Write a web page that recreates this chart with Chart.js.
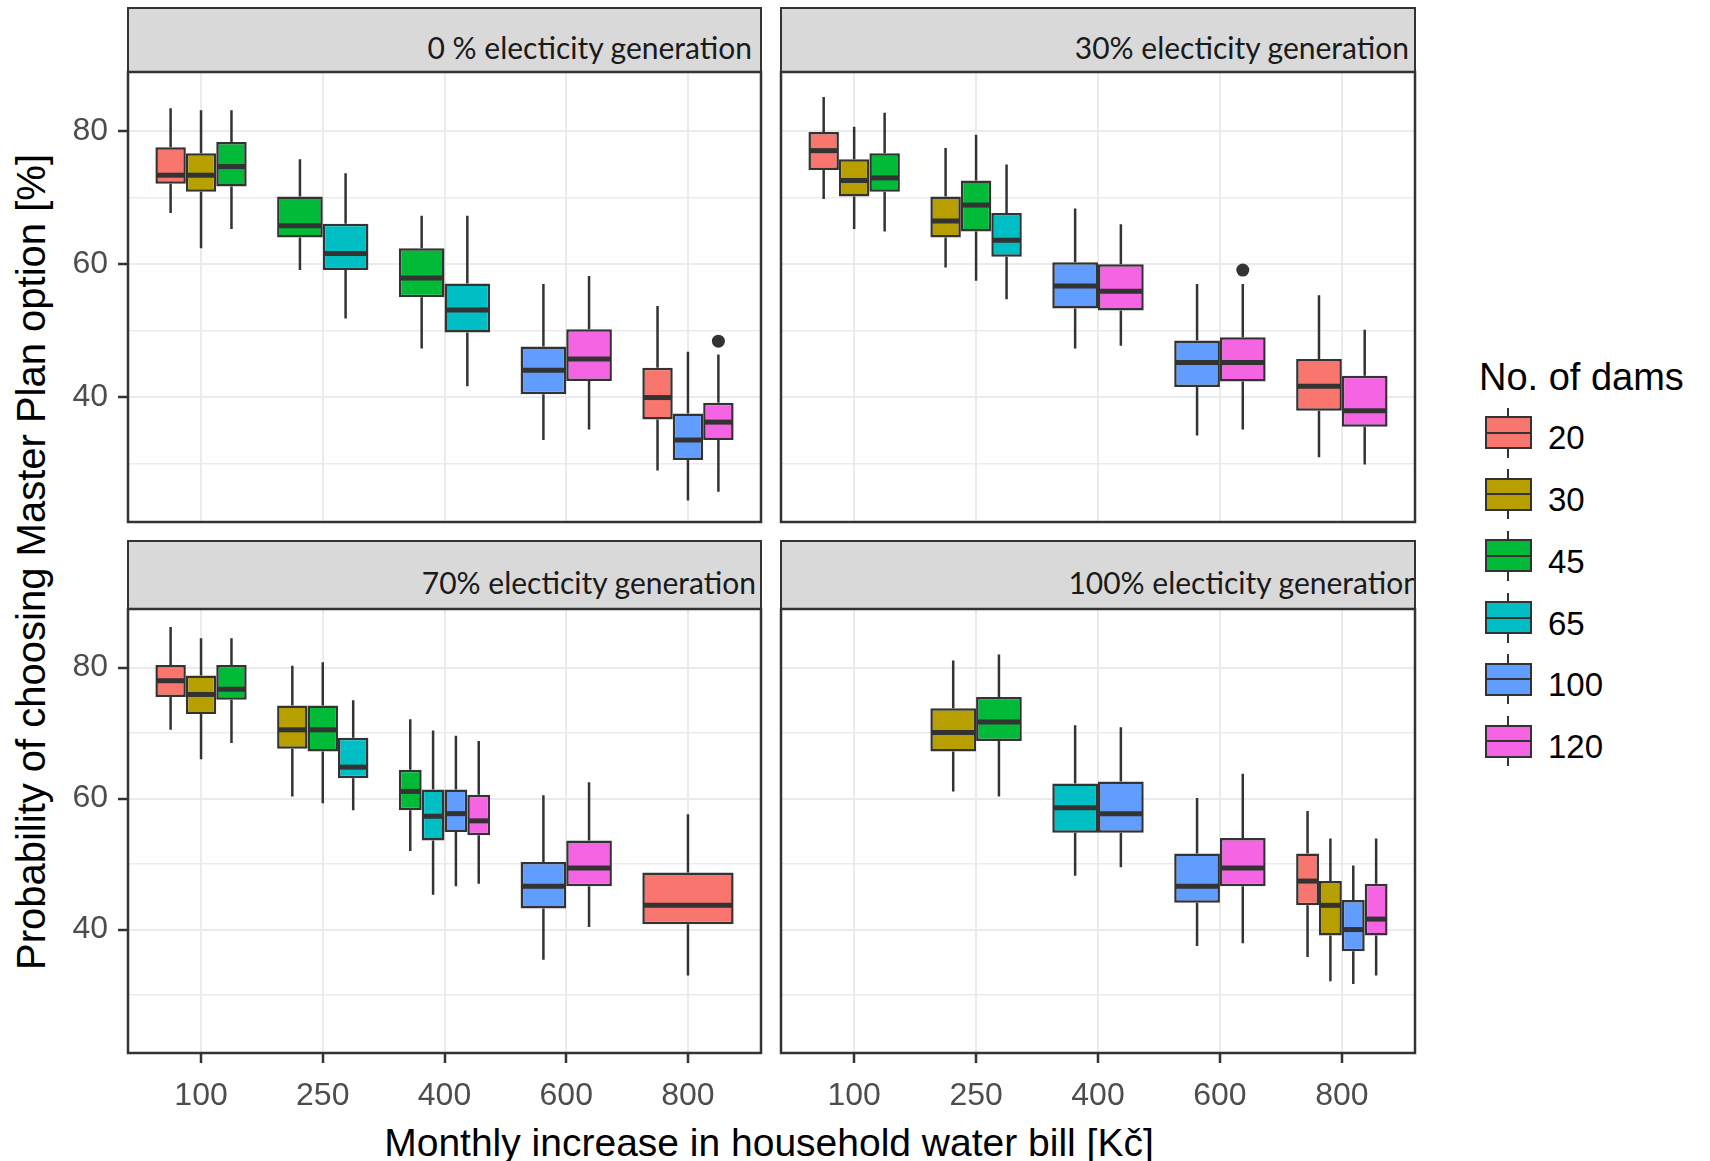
<!DOCTYPE html>
<html>
<head>
<meta charset="utf-8">
<title>Probability of choosing Master Plan option</title>
<script src="https://cdn.jsdelivr.net/npm/chart.js@4.4.1/dist/chart.umd.min.js"></script>
<style>
html, body { margin: 0; padding: 0; background: #fff; }
body { position: relative; width: 1710px; height: 1161px; overflow: hidden; font-family: "Liberation Sans", Arial, sans-serif; }
canvas { position: absolute; }
.strip { position: absolute; box-sizing: border-box; background: #d9d9d9; border: 2px solid #333; overflow: hidden; }
.strip span { position: absolute; font-family: Lato, sans-serif; font-size: 30px; line-height: 1; color: #1a1a1a; white-space: nowrap; }
.title { position: absolute; font-size: 39px; line-height: 1; color: #000; white-space: nowrap; }
#ytitle { left: 31px; top: 562px; font-size: 40px; transform: translate(-50%, -50%) rotate(-90deg); }
#xtitle { left: 769px; top: 1123px; transform: translateX(-50%); }
#ltitle { left: 1479px; top: 358px; font-size: 38px; }
.lkey { position: absolute; box-sizing: border-box; border: 2px solid #333; }
.lkey::after { content: ""; position: absolute; left: 0; right: 0; top: 50%; height: 2px; margin-top: -1px; background: #333; }
.lwhisk { position: absolute; width: 2px; background: #333; }
.llab { position: absolute; font-size: 33px; line-height: 1; color: #000; }
</style>
</head>
<body>
<div id="ytitle" class="title">Probability of choosing Master Plan option [%]</div>
<div id="xtitle" class="title">Monthly increase in household water bill [Kč]</div>
<div id="ltitle" class="title">No. of dams</div>
<script>
const bills = ['100', '250', '400', '600', '800'];
const dams = ['20', '30', '45', '65', '100', '120'];
const damColors = ['#F8766D', '#B79F00', '#00BA38', '#00BFC4', '#619CFF', '#F564E3'];
const panelTitles = ['0 % electicity generation', '30% electicity generation',
                     '70% electicity generation', '100% electicity generation'];

// row: bill, dams, lower whisker, Q1, median, Q3, upper whisker
const boxes0 = [
  ['100', '20', 67.7, 72.1, 73.4, 77.6, 83.5],
  ['100', '30', 62.4, 70.9, 73.4, 76.7, 83.2],
  ['100', '45', 65.3, 71.7, 74.7, 78.4, 83.2],
  ['250', '45', 59.1, 64.0, 65.8, 70.2, 75.8],
  ['250', '65', 51.8, 59.1, 61.6, 66.1, 73.7],
  ['400', '45', 47.3, 55.0, 57.9, 62.4, 67.3],
  ['400', '65', 41.6, 49.7, 53.1, 57.1, 67.3],
  ['600', '100', 33.5, 40.4, 44.0, 47.6, 57.0],
  ['600', '120', 35.1, 42.4, 45.7, 50.2, 58.2],
  ['800', '20', 28.9, 36.6, 39.9, 44.4, 53.7],
  ['800', '100', 24.4, 30.5, 33.5, 37.5, 46.8],
  ['800', '120', 25.7, 33.5, 36.2, 39.1, 46.4],
];
const boxes30 = [
  ['100', '20', 69.8, 74.2, 77.1, 79.9, 85.2],
  ['100', '30', 65.3, 70.2, 72.6, 75.8, 80.7],
  ['100', '45', 64.9, 70.9, 73.0, 76.7, 82.8],
  ['250', '30', 59.5, 64.0, 66.5, 70.2, 77.5],
  ['250', '45', 57.5, 64.9, 68.9, 72.6, 79.5],
  ['250', '65', 54.7, 61.1, 63.6, 67.7, 75.0],
  ['400', '100', 47.3, 53.3, 56.7, 60.3, 68.4],
  ['400', '120', 47.7, 53.0, 55.9, 60.0, 66.0],
  ['600', '100', 34.2, 41.5, 45.2, 48.5, 57.0],
  ['600', '120', 35.1, 42.3, 45.2, 49.0, 57.0],
  ['800', '20', 30.9, 37.9, 41.6, 45.7, 55.3],
  ['800', '120', 29.8, 35.5, 37.9, 43.2, 50.1],
];
const boxes70 = [
  ['100', '20', 70.5, 75.5, 78.0, 80.4, 86.2],
  ['100', '30', 66.0, 72.9, 75.9, 78.8, 84.5],
  ['100', '45', 68.5, 75.1, 76.7, 80.4, 84.5],
  ['250', '30', 60.3, 67.6, 70.5, 74.2, 80.3],
  ['250', '45', 59.3, 67.2, 70.5, 74.2, 80.8],
  ['250', '65', 58.2, 63.1, 64.8, 69.3, 75.0],
  ['400', '45', 52.0, 58.2, 61.1, 64.4, 72.1],
  ['400', '65', 45.3, 53.6, 57.3, 61.4, 70.4],
  ['400', '100', 46.6, 54.9, 57.7, 61.4, 69.6],
  ['400', '120', 47.0, 54.4, 56.6, 60.6, 68.8],
  ['600', '100', 35.4, 43.2, 46.6, 50.3, 60.5],
  ['600', '120', 40.4, 46.6, 49.4, 53.6, 62.5],
  ['800', '20', 33.0, 40.8, 43.7, 48.7, 57.6],
];
const boxes100 = [
  ['250', '30', 61.1, 67.2, 70.1, 73.8, 81.1],
  ['250', '45', 60.3, 68.8, 71.7, 75.5, 82.0],
  ['400', '65', 48.2, 54.8, 58.6, 62.3, 71.2],
  ['400', '100', 49.5, 54.8, 57.7, 62.6, 70.9],
  ['600', '100', 37.5, 44.1, 46.6, 51.6, 60.1],
  ['600', '120', 37.9, 46.6, 49.4, 54.0, 63.8],
  ['800', '20', 35.8, 43.7, 47.4, 51.6, 58.1],
  ['800', '30', 32.1, 39.1, 43.7, 47.4, 53.9],
  ['800', '100', 31.7, 36.7, 40.0, 44.5, 49.8],
  ['800', '120', 33.0, 39.1, 41.6, 47.0, 53.9],
];
// outlier: bill, dams, value
const outliers0 = [['800', '120', 48.4]];
const outliers30 = [['600', '120', 59.1]];
const outliers70 = [];
const outliers100 = [];

const yMin = 21.15, yMax = 88.95;
const yGrid = [30, 40, 50, 60, 70, 80];
const yLabels = [40, 60, 80];

const panelBoxes = [boxes0, boxes30, boxes70, boxes100];
const panelOutliers = [outliers0, outliers30, outliers70, outliers100];

// panel plot areas in page pixels
const frames = [
  { left: 128, top: 72, w: 633, h: 450, stripTop: 7, textRight: 8, textBottom: 9, yAxis: true, xAxis: false },
  { left: 781, top: 72, w: 634, h: 450, stripTop: 7, textRight: 5, textBottom: 9, yAxis: false, xAxis: false },
  { left: 128, top: 609, w: 633, h: 444, stripTop: 540, textRight: 4, textBottom: 11, yAxis: true, xAxis: true },
  { left: 781, top: 609, w: 634, h: 444, stripTop: 540, textRight: -6, textBottom: 11, yAxis: false, xAxis: true },
];
const PAD = 30, YW = 68, XH = 64;
const tickFont = { family: '"Liberation Sans", Arial, sans-serif', size: 32 };

function makeDatasets(rows, outs) {
  return dams.map((dam, k) => ({
    label: dam,
    backgroundColor: damColors[k],
    borderColor: '#333333',
    borderWidth: 2.5,
    borderSkipped: false,
    skipNull: true,
    categoryPercentage: 0.75,
    barPercentage: 1,
    data: bills.map((bill, i) => {
      const r = rows.find(r => r[0] === bill && r[1] === dam);
      if (!r) return { x: i + 1, y: null };
      return {
        x: i + 1, y: [r[3], r[5]], lo: r[2], med: r[4], hi: r[6],
        out: outs.filter(o => o[0] === bill && o[1] === dam).map(o => o[2])
      };
    })
  }));
}

// whiskers, medians, outliers and panel frame
const boxPlugin = {
  id: 'boxparts',
  afterDatasetsDraw(chart) {
    const ctx = chart.ctx, ys = chart.scales.y;
    ctx.save();
    ctx.strokeStyle = '#333333';
    ctx.fillStyle = '#333333';
    chart.data.datasets.forEach((ds, i) => {
      const meta = chart.getDatasetMeta(i);
      ds.data.forEach((d, j) => {
        if (d.y === null) return;
        const { x, width } = meta.data[j].getProps(['x', 'width'], true);
        ctx.lineWidth = 2.5;
        ctx.beginPath();
        ctx.moveTo(x, ys.getPixelForValue(d.y[1]));
        ctx.lineTo(x, ys.getPixelForValue(d.hi));
        ctx.moveTo(x, ys.getPixelForValue(d.y[0]));
        ctx.lineTo(x, ys.getPixelForValue(d.lo));
        ctx.stroke();
        const my = ys.getPixelForValue(d.med);
        ctx.lineWidth = 5;
        ctx.beginPath();
        ctx.moveTo(x - width / 2 + 1, my);
        ctx.lineTo(x + width / 2 - 1, my);
        ctx.stroke();
        d.out.forEach(v => {
          ctx.beginPath();
          ctx.arc(x, ys.getPixelForValue(v), 6.5, 0, 2 * Math.PI);
          ctx.fill();
        });
      });
    });
    ctx.restore();
  },
  afterDraw(chart) {
    const a = chart.chartArea, ctx = chart.ctx;
    ctx.save();
    ctx.strokeStyle = '#333333';
    ctx.lineWidth = 2.5;
    ctx.strokeRect(a.left, a.top, a.right - a.left, a.bottom - a.top);
    ctx.restore();
  }
};

function makePanel(p) {
  const f = frames[p];
  const yw = f.yAxis ? YW : 0, xh = f.xAxis ? XH : 0;

  const strip = document.createElement('div');
  strip.className = 'strip';
  strip.style.left = (f.left - 1) + 'px';
  strip.style.top = f.stripTop + 'px';
  strip.style.width = (f.w + 2) + 'px';
  strip.style.height = (f.top - f.stripTop + 1) + 'px';
  const span = document.createElement('span');
  span.textContent = panelTitles[p];
  span.style.right = f.textRight + 'px';
  span.style.bottom = f.textBottom + 'px';
  strip.appendChild(span);
  document.body.appendChild(strip);

  const cv = document.createElement('canvas');
  const W = yw + f.w + 2 * PAD, H = f.h + xh + 2 * PAD;
  cv.width = W; cv.height = H;
  cv.style.width = W + 'px'; cv.style.height = H + 'px';
  cv.style.left = (f.left - yw - PAD) + 'px';
  cv.style.top = (f.top - PAD) + 'px';
  document.body.appendChild(cv);

  new Chart(cv, {
    type: 'bar',
    data: { datasets: makeDatasets(panelBoxes[p], panelOutliers[p]) },
    options: {
      responsive: false,
      animation: false,
      events: [],
      layout: { padding: PAD },
      datasets: { bar: { skipNull: true } },
      plugins: { legend: { display: false }, tooltip: { enabled: false } },
      scales: {
        x: {
          type: 'linear', min: 0.4, max: bills.length + 0.6, bounds: 'data', offset: false,
          afterBuildTicks: s => { s.ticks = bills.map((b, i) => ({ value: i + 1 })); },
          afterFit: s => { s.height = xh; },
          border: { display: false },
          grid: { color: '#ebebeb', lineWidth: 2, offset: false, drawTicks: f.xAxis,
                  tickLength: 10, tickWidth: 2.5, tickColor: '#333333' },
          ticks: { display: f.xAxis, padding: 14, color: '#4d4d4d', font: tickFont,
                   maxRotation: 0, autoSkip: false, callback: v => bills[v - 1] }
        },
        y: {
          type: 'linear', min: yMin, max: yMax, bounds: 'data',
          afterBuildTicks: s => { s.ticks = yGrid.map(v => ({ value: v })); },
          afterFit: s => { s.width = yw; },
          border: { display: false },
          grid: {
            color: '#ebebeb',
            lineWidth: c => (c.tick && yLabels.includes(c.tick.value)) ? 2 : 1.5,
            drawTicks: f.yAxis, tickLength: 10, tickWidth: 2.5,
            tickColor: c => (c.tick && yLabels.includes(c.tick.value)) ? '#333333' : 'rgba(0,0,0,0)'
          },
          ticks: { display: f.yAxis, padding: 10, color: '#4d4d4d', font: tickFont,
                   callback: v => yLabels.includes(v) ? String(v) : '' }
        }
      }
    },
    plugins: [boxPlugin]
  });
}

[0, 1, 2, 3].forEach(makePanel);

// legend
dams.forEach((d, k) => {
  const top = 416 + k * 61.7;
  const wh = document.createElement('div');
  wh.className = 'lwhisk';
  wh.style.left = '1507px';
  wh.style.top = (top - 8.5) + 'px';
  wh.style.height = '50px';
  document.body.appendChild(wh);
  const key = document.createElement('div');
  key.className = 'lkey';
  key.style.left = '1485px';
  key.style.top = top + 'px';
  key.style.width = '47px';
  key.style.height = '33px';
  key.style.background = damColors[k];
  document.body.appendChild(key);
  const lab = document.createElement('div');
  lab.className = 'llab';
  lab.style.left = '1548px';
  lab.style.top = (top + 5.4) + 'px';
  lab.textContent = d;
  document.body.appendChild(lab);
});
</script>
</body>
</html>
